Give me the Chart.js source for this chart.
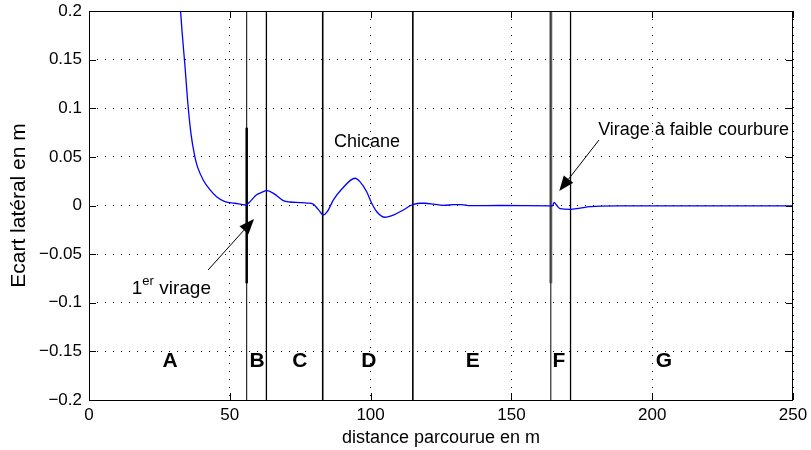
<!DOCTYPE html>
<html>
<head>
<meta charset="utf-8">
<script src="https://cdn.jsdelivr.net/npm/chart.js@4/dist/chart.umd.min.js"></script>
<style>
  html,body{margin:0;padding:0;background:#fff;}
  canvas{display:block;}
</style>
</head>
<body>
<canvas id="c" width="811" height="450"></canvas>
<script>
// ---- data ----
const distance = [31.5, 33.1, 34.1, 35.0, 36.2, 37.6, 38.5, 40.6, 43.0, 45.3, 48.3, 51.8, 55.7,
  57.5, 59.5, 61.3, 63.1, 65.5, 69.0, 71.3, 74.9, 77.5, 79.6, 81.4, 83.2, 84.6, 86.8, 89.7, 94.5,
  96.2, 98.6, 100.4, 102.2, 105.1, 108.1, 111.6, 114.6, 117.5, 119.3, 122.3, 125.8, 129.4, 132.3,
  135.3, 146.0, 163.7, 164.6, 165.2, 166.0, 167.3, 170.8, 174.4, 178.0, 181.5, 190.0, 200.0, 250.0];
const ecart = [0.24, 0.177, 0.1427, 0.1085, 0.0742, 0.05, 0.04, 0.026, 0.016, 0.009, 0.0039, 0.0023, 0.0005,
  0.005, 0.011, 0.0135, 0.0152, 0.0125, 0.005, 0.0036, 0.003, 0.0025, 0.0015, -0.004, -0.0098, -0.0064, 0.0057, 0.0167, 0.028,
  0.0245, 0.0142, 0.0023, -0.0064, -0.0121, -0.0098, -0.0046, 0.0005, 0.0023, 0.0023, 0.0015, 0.0002, 0.0008, 0.001,
  -0.0002, 0.0, -0.0003, -0.0003, 0.0033, 0.0005, -0.0033, -0.004, -0.0026, -0.0012, -0.0006, -0.0004, -0.0003, -0.0003];

const boundaries = [56, 63, 83, 115, 164, 171];
const boundaryWidths = [1, 1.3, 1.6, 1.6, 1, 1.3];
const sectionLabels = ['A', 'B', 'C', 'D', 'E', 'F', 'G'];
const sectionX = [28.8, 59.7, 74.9, 99.4, 136.3, 166.9, 204.2];
const sectionY = -0.16;
const xTicks = [0, 50, 100, 150, 200, 250];
const yTicks = [-0.2, -0.15, -0.1, -0.05, 0, 0.05, 0.1, 0.15, 0.2];

const FONT = '"Liberation Sans", Arial, Helvetica, sans-serif';

const datasets = [];
boundaries.forEach((b, i) => {
  datasets.push({
    data: [{x: b, y: -0.2}, {x: b, y: 0.2}],
    borderColor: '#000', borderWidth: boundaryWidths[i], pointRadius: 0, order: 3
  });
});
// thicker marks
datasets.push({data: [{x: 56, y: -0.08}, {x: 56, y: 0.08}], borderColor: '#000', borderWidth: 2.5, pointRadius: 0, order: 2});
datasets.push({data: [{x: 164, y: -0.08}, {x: 164, y: 0.2}], borderColor: '#7a7a7a', borderWidth: 3, pointRadius: 0, order: 2});
datasets.push({data: [{x: 164, y: -0.08}, {x: 164, y: 0.2}], borderColor: '#222', borderWidth: 1, pointRadius: 0, order: 1});
// blue curve
datasets.push({
  data: distance.map((d, i) => ({x: d, y: ecart[i]})),
  borderColor: '#0000ff', borderWidth: 1.3, pointRadius: 0,
  cubicInterpolationMode: 'monotone', order: 0
});

function arrow(ctx, x1, y1, x2, y2) {
  const ang = Math.atan2(y2 - y1, x2 - x1);
  const L = 15, W = 6;
  const bx = x2 - L * Math.cos(ang), by = y2 - L * Math.sin(ang);
  ctx.beginPath();
  ctx.moveTo(x1, y1); ctx.lineTo(bx, by);
  ctx.strokeStyle = '#000'; ctx.lineWidth = 1; ctx.stroke();
  ctx.beginPath();
  ctx.moveTo(x2, y2);
  ctx.lineTo(bx + W * Math.sin(ang), by - W * Math.cos(ang));
  ctx.lineTo(bx - W * Math.sin(ang), by + W * Math.cos(ang));
  ctx.closePath(); ctx.fillStyle = '#000'; ctx.fill();
}

const deco = {
  id: 'deco',
  afterDatasetsDraw(chart) {
    const {ctx, chartArea: a, scales: {x, y}} = chart;
    ctx.save();
    // box
    ctx.strokeStyle = '#000'; ctx.lineWidth = 1;
    ctx.strokeRect(Math.round(a.left) + 0.5, Math.round(a.top) + 0.5, Math.round(a.right - a.left) - 1, Math.round(a.bottom - a.top));
    // inside ticks
    ctx.beginPath();
    xTicks.forEach(v => {
      const px = Math.round(x.getPixelForValue(v)) + 0.5;
      ctx.moveTo(px, a.bottom); ctx.lineTo(px, a.bottom - 7);
      ctx.moveTo(px, a.top); ctx.lineTo(px, a.top + 7);
    });
    yTicks.forEach(v => {
      const py = Math.round(y.getPixelForValue(v)) + 0.5;
      ctx.moveTo(a.left, py); ctx.lineTo(a.left + 7, py);
      ctx.moveTo(a.right, py); ctx.lineTo(a.right - 7, py);
    });
    ctx.stroke();
    // section letters
    ctx.fillStyle = '#000';
    ctx.font = 'bold 21px ' + FONT;
    ctx.textAlign = 'center'; ctx.textBaseline = 'middle';
    sectionLabels.forEach((t, i) => ctx.fillText(t, x.getPixelForValue(sectionX[i]), y.getPixelForValue(sectionY)));
    // annotations
    ctx.font = '18px ' + FONT;
    ctx.fillText('Chicane', x.getPixelForValue(98.7), y.getPixelForValue(0.0653));
    ctx.textAlign = 'left';
    ctx.fillText('Virage à faible courbure', x.getPixelForValue(180.8), y.getPixelForValue(0.0776));
    // 1er virage
    const bx0 = x.getPixelForValue(15.2), by0 = y.getPixelForValue(-0.0875);
    ctx.textBaseline = 'alphabetic';
    ctx.font = '19px ' + FONT;
    ctx.fillText('1', bx0, by0 + 3);
    const w1 = ctx.measureText('1').width;
    ctx.font = '13px ' + FONT;
    ctx.fillText('er', bx0 + w1, by0 - 6);
    const w2 = ctx.measureText('er').width;
    ctx.font = '19px ' + FONT;
    ctx.fillText(' virage', bx0 + w1 + w2, by0 + 3);
    // arrows
    arrow(ctx, x.getPixelForValue(42.3), y.getPixelForValue(-0.0663), x.getPixelForValue(58.6), y.getPixelForValue(-0.0139));
    arrow(ctx, x.getPixelForValue(181.1), y.getPixelForValue(0.0673), x.getPixelForValue(167.0), y.getPixelForValue(0.0149));
    ctx.restore();
  }
};

new Chart(document.getElementById('c'), {
  type: 'line',
  data: {datasets},
  plugins: [deco],
  options: {
    responsive: false, animation: false,
    layout: {padding: {top: 11, right: 18, left: 0, bottom: 0}},
    plugins: {legend: {display: false}, tooltip: {enabled: false}},
    scales: {
      x: {
        type: 'linear', min: 0, max: 250,
        afterBuildTicks: s => { s.ticks = xTicks.map(v => ({value: v})); },
        afterFit: s => { s.height = 50; },
        ticks: {color: '#000', font: {family: FONT, size: 17}, padding: 0, maxRotation: 0},
        grid: {color: '#000', lineWidth: 1, drawTicks: true, tickLength: 5, tickColor: 'rgba(0,0,0,0)'},
        border: {display: false, dash: [1, 7]},
        title: {display: true, text: 'distance parcourue en m', color: '#000', font: {family: FONT, size: 18}, padding: {top: 0, bottom: 1}}
      },
      y: {
        type: 'linear', min: -0.2, max: 0.2,
        afterBuildTicks: s => { s.ticks = yTicks.map(v => ({value: v})); },
        afterFit: s => { s.width = 89; },
        ticks: {
          color: '#000', font: {family: FONT, size: 17}, padding: 0,
          callback: v => { const r = Math.round(v * 100) / 100; return String(r).replace('-', '\u2212'); }
        },
        grid: {color: '#000', lineWidth: 1, drawTicks: true, tickLength: 7, tickColor: 'rgba(0,0,0,0)'},
        border: {display: false, dash: [1, 7]},
        title: {display: true, text: 'Ecart latéral en m', color: '#000', font: {family: FONT, size: 21}, padding: {top: 7, bottom: 0}}
      }
    }
  }
});
</script>
</body>
</html>
